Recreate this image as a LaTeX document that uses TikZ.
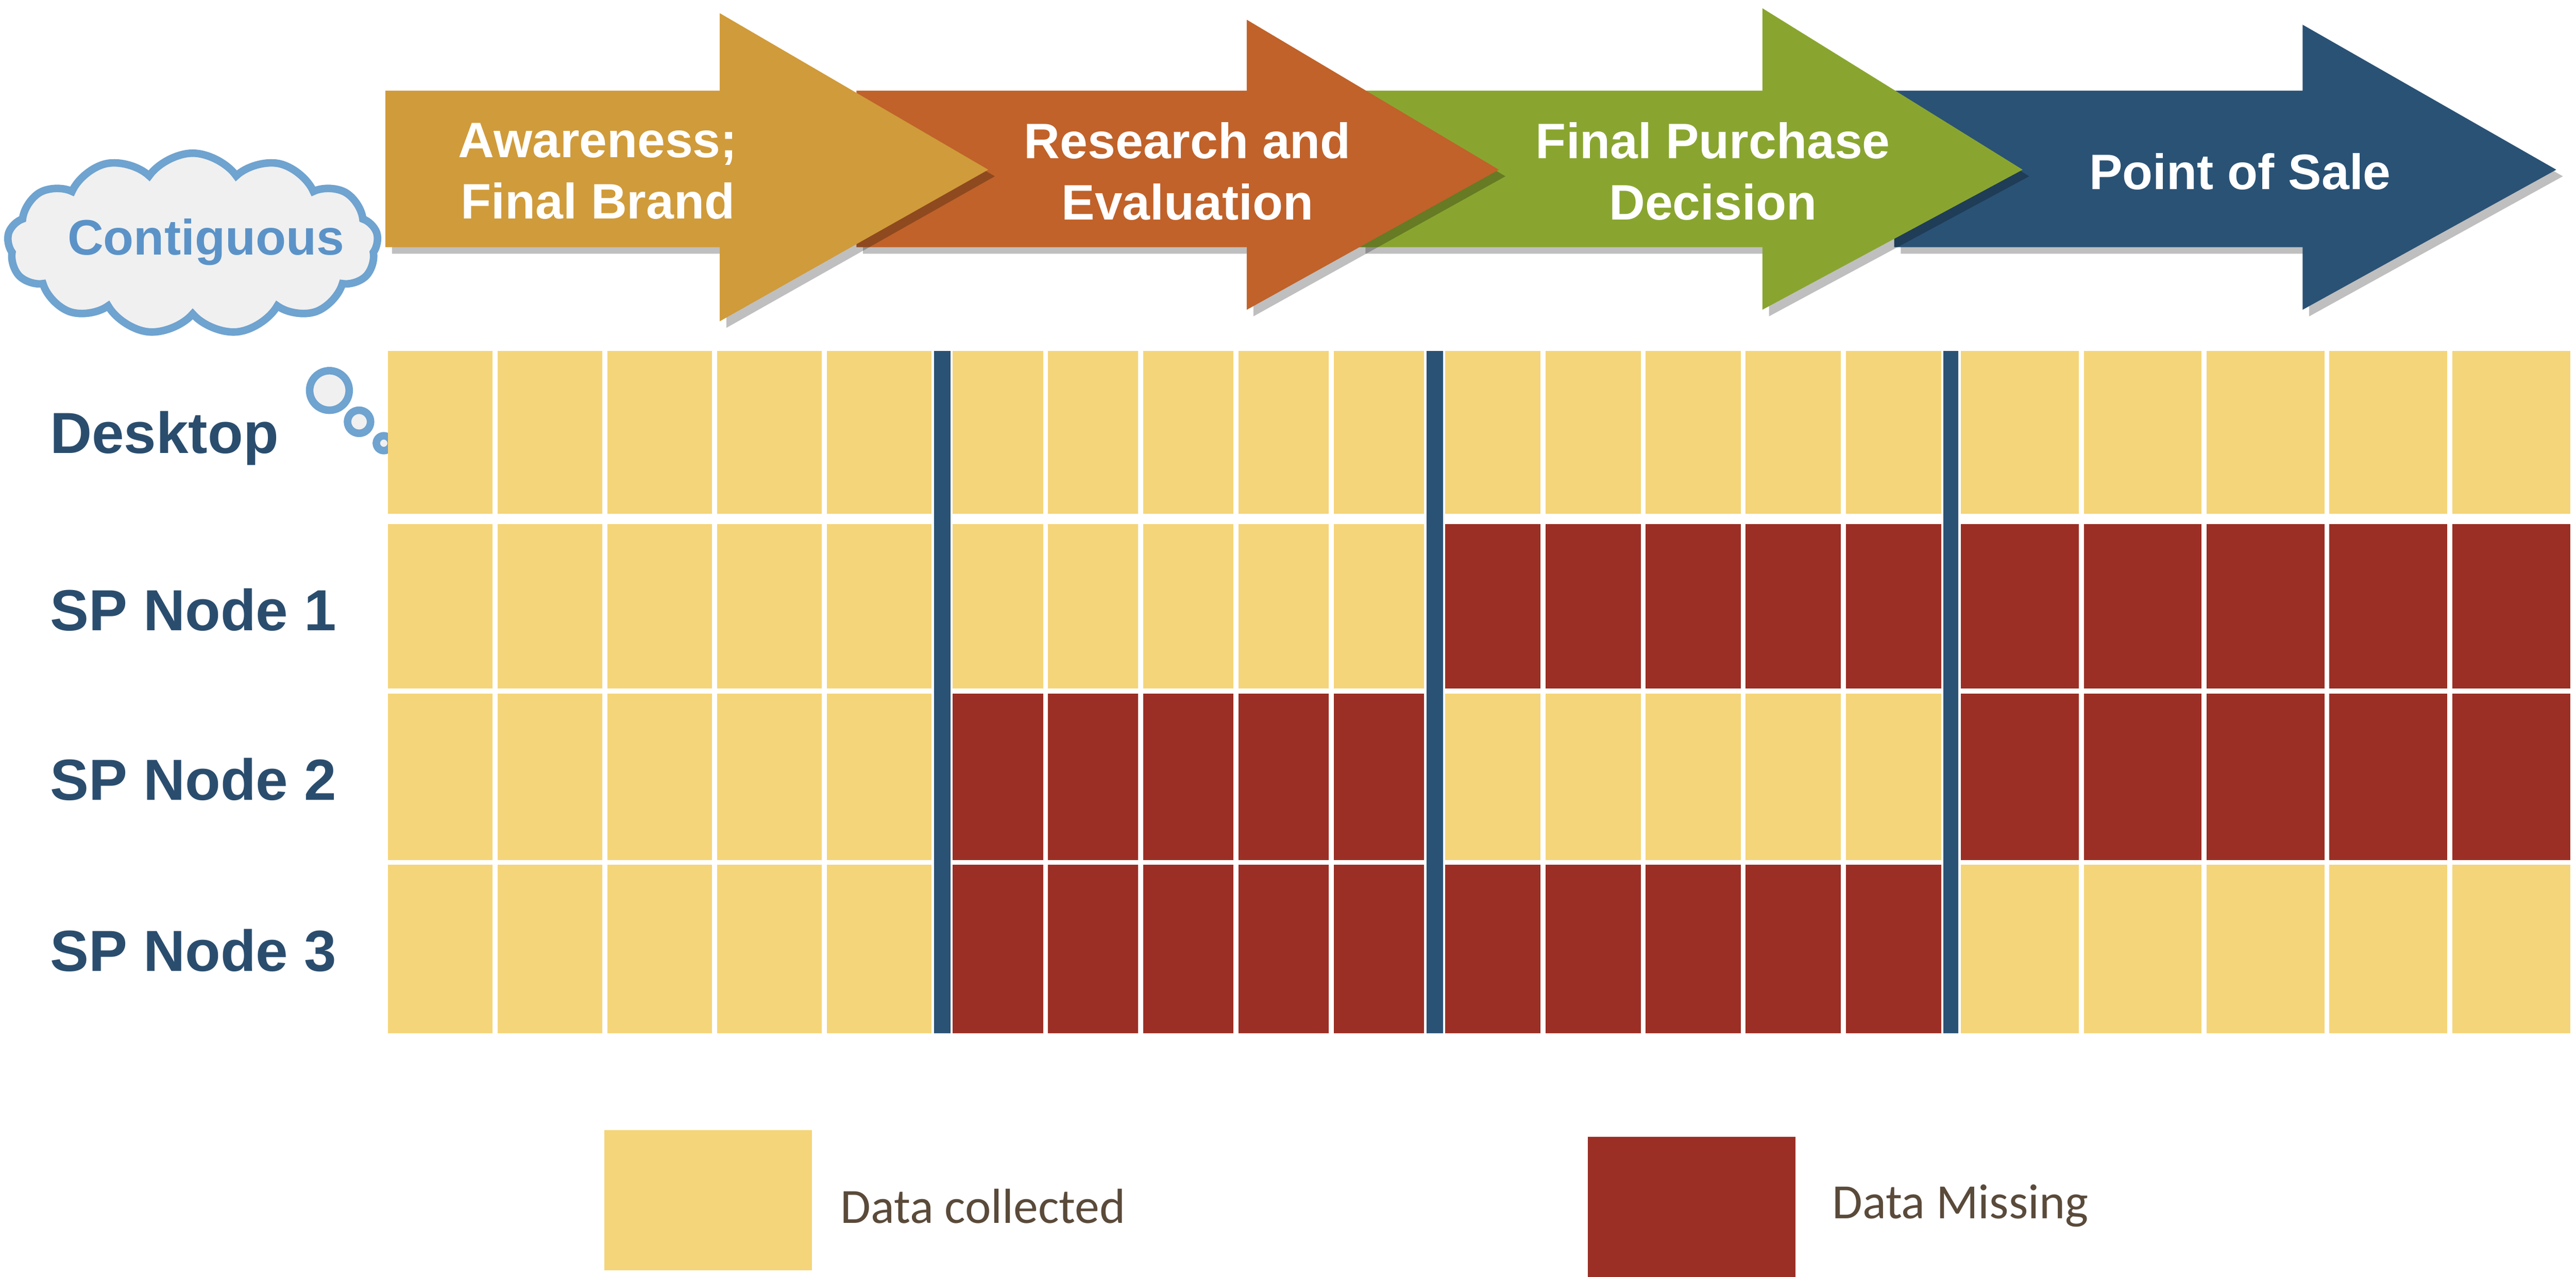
\documentclass[tikz,border=0pt]{standalone}
\usepackage{fontspec}
\setmainfont{Liberation Sans}
\newfontfamily\legfont{Carlito}
\usetikzlibrary{shapes.symbols}
\definecolor{Y}{HTML}{F5D57A}
\definecolor{R}{HTML}{9B2F25}
\definecolor{sep}{HTML}{2A5275}
\definecolor{aone}{HTML}{D09B3A}
\definecolor{atwo}{HTML}{C0622A}
\definecolor{athree}{HTML}{89A530}
\definecolor{afour}{HTML}{2A5275}
\definecolor{lbl}{HTML}{2A4D6E}
\definecolor{cloudb}{HTML}{6FA3D0}
\definecolor{cloudt}{HTML}{5B93C8}
\definecolor{legt}{HTML}{5A4A3A}
\begin{document}
\begin{tikzpicture}[x=0.01cm,y=-0.01cm,
  arrtext/.style={text=white,font=\fontsize{8.6}{10.6}\selectfont\bfseries,align=center},
  rowlbl/.style={text=lbl,font=\fontsize{10}{12}\selectfont\bfseries,anchor=west},
  legtxt/.style={text=legt,font=\legfont\fontsize{8.5}{10}\selectfont,anchor=west},
  shad/.style={fill=black,opacity=0.25}]
\useasboundingbox (0,0) rectangle (1564,775);
% arrows: draw 4,3,2,1
\foreach \x/\h/\t/\top/\bot/\c in {1150/1398/1552/15/188/afour, 825/1070/1228/5/188/athree, 520/757/910/12/188/atwo, 234/437/600/8/195/aone}{
  \fill[shad] (\x+4,59)--(\h+4,59)--(\h+4,\top+4)--(\t+4,107)--(\h+4,\bot+4)--(\h+4,154)--(\x+4,154)--cycle;
  \fill[\c] (\x,55)--(\h,55)--(\h,\top)--(\t,103)--(\h,\bot)--(\h,150)--(\x,150)--cycle;
}
\node[arrtext] (t1) at (363,104) {Awareness;\\Final Brand};
\node[arrtext] (t2) at (721,104) {Research and\\Evaluation};
\node[arrtext] (t3) at (1040,104) {Final Purchase\\Decision};
\node[arrtext] (t4) at (1360,104) {Point of Sale};
% cloud
\node[cloud,cloud puffs=13,cloud puff arc=110,aspect=2.1,draw=cloudb,line width=1.3pt,fill=gray!12,minimum width=228\pgflinewidth,inner sep=0pt,minimum width=2.25cm,minimum height=1.1cm] (cl) at (117,148) {};
\node[text=cloudt,font=\fontsize{8.6}{10}\selectfont\bfseries] (clt) at (125,147) {Contiguous};
\draw[cloudb,line width=1.3pt,fill=gray!12] (200,237) circle (12);
\draw[cloudb,line width=1.3pt,fill=gray!12] (218,256) circle (7);
\draw[cloudb,line width=1.3pt,fill=gray!12] (233,269) circle (4.5);
% grid
\foreach \ya/\yb/\p in {213/312/{Y,Y,Y,Y},318/418/{Y,Y,R,R},421/522/{Y,R,Y,R},525/627/{Y,R,R,Y}}{
  \foreach \c [count=\s] in \p {
    \pgfmathsetmacro\a{{234,577,876,1189}[\s-1]}
    \pgfmathsetmacro\b{{567,866,1180,1562}[\s-1]}
    \foreach \k in {0,...,4}{
      \fill[\c] ({\a+\k*(\b-\a)/5+1.5},\ya) rectangle ({\a+(\k+1)*(\b-\a)/5-1.5},\yb);
    }
  }
}
\foreach \xa/\xb in {567/577,866/876,1180/1189}{
  \fill[sep] (\xa,213) rectangle (\xb,627);
}
\node[rowlbl] (r0) at (18,266) {Desktop};
\node[rowlbl] (r1) at (18,370) {SP Node 1};
\node[rowlbl] (r2) at (18,473) {SP Node 2};
\node[rowlbl] (r3) at (18,577) {SP Node 3};
% legend
\fill[Y] (367,686) rectangle (493,771);
\fill[R] (964,690) rectangle (1090,776);
\node[legtxt] (l1) at (498,732) {Data collected};
\node[legtxt] (l2) at (1100,732) {Data Missing};
\end{tikzpicture}
\end{document}
